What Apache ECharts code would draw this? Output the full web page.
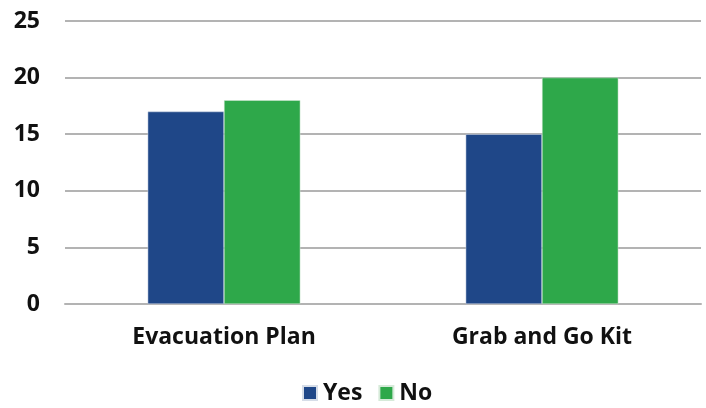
<!DOCTYPE html>
<html><head><meta charset="utf-8">
<script src="https://cdn.jsdelivr.net/npm/echarts@6/dist/echarts.min.js"></script>
<style>html,body{margin:0;padding:0;background:#fff}#c{width:706px;height:408px}</style>
</head><body><div id="c"></div>
<script>
const categories = ['Evacuation Plan', 'Grab and Go Kit'];
const yesValues = [17, 15];
const noValues = [18, 20];
const yTicks = [0, 5, 10, 15, 20, 25];

const chart = echarts.init(document.getElementById('c'), null, {renderer: 'canvas'});
const font = '"Open Sans", sans-serif';
const txt = {fontFamily: font, fontSize: 23, fontWeight: 'bold', color: '#111111'};
chart.setOption({
  animation: false,
  textStyle: {fontFamily: font},
  grid: {left: 65, right: 5, top: 21, bottom: 104, containLabel: false},
  legend: {
    top: 380, left: 302, itemWidth: 14, itemHeight: 14, itemGap: 16,
    icon: 'rect', padding: 0,
    textStyle: Object.assign({}, txt, {padding: [0,0,0,1], lineHeight: 26}),
    data: ['Yes', 'No']
  },
  xAxis: {
    type: 'category', data: categories,
    axisLine: {lineStyle: {color: '#b3b3b3', width: 2}},
    axisTick: {show: false},
    axisLabel: Object.assign({}, txt, {margin: 22})
  },
  yAxis: {
    type: 'value', min: yTicks[0], max: yTicks[yTicks.length-1], interval: 5,
    axisLine: {show: false}, axisTick: {show: false},
    splitLine: {lineStyle: {color: '#b3b3b3', width: 2}},
    axisLabel: Object.assign({}, txt, {margin: 25})
  },
  series: [
    {name: 'Yes', type: 'bar', data: yesValues, barGap: '0%', barCategoryGap: '52%',
     itemStyle: {color: '#1f4788', borderColor: '#d6dde8', borderWidth: 0.5}},
    {name: 'No', type: 'bar', data: noValues,
     itemStyle: {color: '#2ea84a', borderColor: '#d6ead9', borderWidth: 0.5}}
  ]
});
</script></body></html>
